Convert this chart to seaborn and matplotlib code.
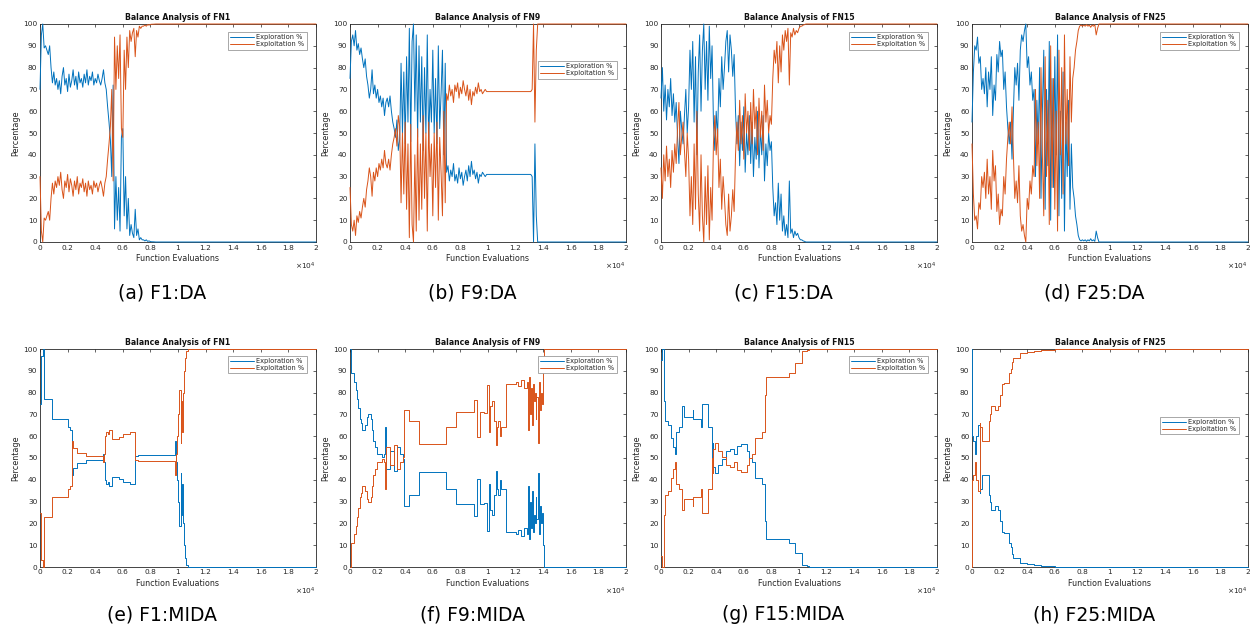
import numpy as np
import pandas as pd
import matplotlib
matplotlib.use("Agg")
import matplotlib.pyplot as plt
import seaborn as sns
from matplotlib.ticker import FuncFormatter, MultipleLocator

BLUE = "#0072BD"
ORANGE = "#D95319"
STEP = 100          # evaluations between samples in the DA runs
MAX_EVALS = 20000

# DA runs: exploration % every STEP evaluations, last value holds to MAX_EVALS
da_f1 = [70, 95, 100, 89, 90, 88, 86, 90, 80, 73, 78, 72, 75, 70, 74, 68, 76, 80,
         72, 75, 69, 77, 71, 74, 79, 72, 76, 70, 78, 73, 75, 71, 77, 73, 79, 72,
         76, 74, 78, 72, 75, 73, 77, 74, 72, 75, 79, 73, 70, 62, 55, 47, 30, 72,
         6, 30, 10, 25, 5, 48, 52, 12, 30, 6, 20, 3, 8, 4, 2, 15, 3, 6, 1, 2, 1,
         1, 0.5, 1, 0.3, 0.5, 0.2, 0.1, 0.1, 0.05, 0]
da_f9 = [75, 92, 95, 90, 97, 88, 91, 86, 89, 84, 80, 84, 76, 72, 66, 70, 79, 68,
         72, 66, 70, 64, 67, 62, 66, 58, 64, 66, 62, 67, 60, 55, 52, 48, 56, 42,
         47, 82, 50, 78, 45, 85, 55, 98, 46, 92, 100, 60, 95, 48, 90, 55, 85, 42,
         80, 50, 95, 45, 70, 55, 88, 50, 75, 45, 90, 52, 68, 88, 40, 82, 32, 35,
         28, 33, 30, 36, 28, 31, 27, 34, 29, 32, 26, 30, 33, 28, 35, 30, 37, 31,
         33, 29, 32, 27, 31, 30, 32, 31, 30, 31] + [31] * 32 + [30, 0, 45, 12, 0]
da_f15 = [66, 80, 60, 72, 56, 70, 62, 75, 58, 68, 55, 64, 48, 36, 60, 52, 45, 58,
          70, 50, 62, 88, 70, 92, 55, 85, 40, 78, 95, 60, 88, 100, 70, 92, 65, 99,
          75, 90, 55, 42, 60, 48, 75, 62, 85, 70, 80, 92, 97, 78, 95, 88, 76, 86,
          60, 45, 58, 35, 55, 42, 62, 32, 50, 40, 58, 36, 55, 30, 48, 38, 60, 34,
          52, 40, 58, 28, 45, 35, 50, 42, 46, 25, 12, 18, 8, 27, 10, 22, 5, 12, 3,
          8, 2, 28, 4, 6, 2, 5, 3, 4, 2, 1, 1, 0.5, 0.3, 0]
da_f25 = [55, 78, 90, 88, 94, 82, 85, 70, 75, 68, 80, 62, 78, 70, 85, 58, 72, 65,
          86, 78, 92, 85, 88, 70, 78, 62, 52, 45, 55, 38, 60, 80, 72, 82, 65, 88,
          95, 92, 97, 100, 80, 85, 72, 78, 65, 70, 30, 65, 45, 80, 20, 60, 88, 15,
          70, 35, 92, 10, 75, 25, 85, 40, 95, 12, 60, 20, 78, 5, 55, 30, 65, 15,
          45, 25, 20, 12, 8, 3, 1, 0.5, 1, 0.5, 1, 0.3, 1, 0.5, 1.5, 0.5, 1, 0.3,
          5, 2, 0]

# MIDA runs: exploration % as step change points (evaluations) and values
mida_f1_x = [0, 50, 100, 200, 300, 900, 2000, 2200, 2350, 2400, 2700, 3300, 4600,
             4650, 4700, 4800, 4900, 5000, 5200, 5700, 6000, 6500, 6900, 7100, 9800,
             9850, 9900, 10000, 10100, 10200, 10250, 10300, 10350, 10400, 10500,
             10600, 10700, 20000]
mida_f1_y = [75, 78, 97, 100, 77, 68, 64, 63, 42, 45.5, 47.5, 49, 52, 48, 40, 38,
             39, 37, 41.5, 40.5, 39, 38, 51, 51.5, 58, 48, 40, 30, 19, 43, 24, 38,
             20, 10, 4, 1, 0, 0]
mida_f9_x = [0, 50, 200, 300, 400, 500, 600, 700, 800, 900, 1100, 1200, 1300, 1500,
             1600, 1700, 1800, 1950, 2300, 2450, 2500, 2600, 2900, 3200, 3400, 3600,
             3850, 3900, 4300, 5000, 6950, 7700, 9000, 9200, 9400, 9700, 9950,
             10050, 10150, 10300, 10450, 10550, 10650, 10750, 10850, 10950, 11300,
             12000, 12200, 12400, 12600, 12800, 12900, 13000, 13050, 13100, 13200,
             13250, 13300, 13400, 13450, 13500, 13600, 13700, 13800, 13850, 13900,
             14000, 14050, 20000]
mida_f9_y = [100, 89, 89, 85, 81, 77, 73, 68, 66, 63, 65, 69, 70, 68, 63, 58, 55,
             52, 50.5, 52, 64, 45, 53, 44, 55, 52, 49.5, 28, 33, 43.5, 36, 29, 23.5,
             40.5, 29, 29.5, 16.5, 38, 26, 24, 33, 44, 36, 33, 40, 36, 16, 15, 17,
             14, 18, 15, 37, 13, 30, 18, 35, 16, 24, 20, 32, 22, 43, 15, 28, 20, 25,
             10, 0, 0]
mida_f15_x = [0, 50, 150, 200, 250, 300, 500, 700, 900, 1050, 1100, 1300, 1500,
              1550, 1650, 2300, 2350, 2450, 2900, 2950, 3400, 3700, 3750, 3800,
              3900, 4100, 4400, 4700, 5000, 5300, 5500, 5800, 6200, 6400, 6600,
              6800, 7300, 7500, 7600, 7700, 9300, 9700, 10200, 10600, 10700, 20000]
mida_f15_y = [95, 100, 100, 90, 76, 67, 65, 59, 55, 52, 62, 64, 70, 74, 69, 72, 68,
              68, 64, 75, 64, 50, 57, 46, 43, 47, 49.5, 53, 54, 52, 55.5, 56.5, 53,
              50, 48, 41, 38, 21, 13, 13, 11, 6.5, 1, 0.5, 0, 0]
mida_f25_x = [0, 30, 100, 200, 300, 400, 550, 600, 700, 1200, 1250, 1300, 1400,
              1700, 1900, 2000, 2200, 2300, 2700, 2800, 2900, 3000, 3500, 4000,
              4500, 5000, 6000, 10000, 20000]
mida_f25_y = [100, 60, 58, 52, 60, 65, 34, 36, 42, 36, 33, 30, 26, 28, 26, 21, 16,
              15.5, 11, 9, 6, 4, 2, 1.5, 1, 0.5, 0.2, 0, 0]

titles = ["Balance Analysis of FN1", "Balance Analysis of FN9",
          "Balance Analysis of FN15", "Balance Analysis of FN25"]
captions = ["(a) F1:DA", "(b) F9:DA", "(c) F15:DA", "(d) F25:DA",
            "(e) F1:MIDA", "(f) F9:MIDA", "(g) F15:MIDA", "(h) F25:MIDA"]
series_names = ["Exploration %", "Exploitation %"]


def da_frame(explore):
    evals = list(np.arange(len(explore)) * STEP) + [MAX_EVALS]
    vals = list(explore) + [explore[-1]]
    return pd.DataFrame({"evals": evals, "explore": vals})


def mida_frame(xs, ys):
    return pd.DataFrame({"evals": xs, "explore": ys})


def draw(ax, df, steps, legend_anchor):
    df = df.copy()
    df["Exploration %"] = df["explore"]
    df["Exploitation %"] = 100 - df["explore"]
    long = df.melt(id_vars="evals", value_vars=series_names,
                   var_name="series", value_name="pct")
    kws = {"drawstyle": "steps-post"} if steps else {}
    sns.lineplot(data=long, x="evals", y="pct", hue="series",
                 hue_order=series_names, palette=[BLUE, ORANGE],
                 estimator=None, sort=False, lw=0.7, legend=False, ax=ax,
                 zorder=3, clip_on=False, **kws)

    ax.set_xlim(0, MAX_EVALS)
    ax.set_ylim(0, 100)
    ax.xaxis.set_major_locator(MultipleLocator(2000))
    ax.xaxis.set_major_formatter(FuncFormatter(lambda v, p: f"{v / 1e4:g}"))
    ax.yaxis.set_major_locator(MultipleLocator(10))
    ax.set_xlabel("Function Evaluations", fontsize=5.8, color="#262626", labelpad=2.5)
    ax.set_ylabel("Percentage", fontsize=5.8, color="#262626", labelpad=2)
    ax.tick_params(direction="in", length=2.5, width=0.5, labelsize=5.3,
                   colors="#262626", pad=1.8, top=True, right=True)
    for sp in ax.spines.values():
        sp.set_linewidth(0.6)
        sp.set_color("#262626")
    ax.text(1.0, -0.085, r"$\times10^4$", transform=ax.transAxes, ha="right",
            va="top", fontsize=5.3, color="#262626")

    leg = ax.legend(ax.get_lines()[:2], series_names, loc="upper right",
                    bbox_to_anchor=legend_anchor, fontsize=4.8, frameon=True,
                    fancybox=False, framealpha=1, edgecolor="#9a9a9a",
                    borderpad=0.35, handlelength=3.6, handletextpad=0.3,
                    labelspacing=0.15, borderaxespad=0.0)
    leg.get_frame().set_linewidth(0.6)
    leg.set_zorder(5)


sns.set_theme(style="white")
plt.rcParams["font.family"] = ["DejaVu Sans"]

fig = plt.figure(figsize=(12.57, 6.30), dpi=100)
W, H = 1257, 630
lefts = [40, 350, 661, 972]
row_tops = [24, 349]
ax_w, ax_h = 276, 218

da_data = [da_frame(da_f1), da_frame(da_f9), da_frame(da_f15), da_frame(da_f25)]
mida_data = [mida_frame(mida_f1_x, mida_f1_y), mida_frame(mida_f9_x, mida_f9_y),
             mida_frame(mida_f15_x, mida_f15_y), mida_frame(mida_f25_x, mida_f25_y)]
da_legend = [(0.967, 0.963), (0.967, 0.83), (0.967, 0.963), (0.967, 0.963)]
mida_legend = [(0.967, 0.97), (0.967, 0.97), (0.967, 0.97), (0.967, 0.69)]

for row, (data, anchors) in enumerate([(da_data, da_legend), (mida_data, mida_legend)]):
    top = row_tops[row]
    for col in range(4):
        ax = fig.add_axes([lefts[col] / W, (H - top - ax_h) / H, ax_w / W, ax_h / H])
        draw(ax, data[col], steps=(row == 1), legend_anchor=anchors[col])
        ax.set_title(titles[col], fontsize=5.6, fontweight="bold", pad=3,
                     color="#111111")
        cap_y = 293 if row == 0 else 615
        fig.text((lefts[col] + 122) / W, 1 - cap_y / H, captions[row * 4 + col],
                 ha="center", va="center", fontsize=13.5, color="black")

fig.savefig("out.png", dpi=100, facecolor="white")
